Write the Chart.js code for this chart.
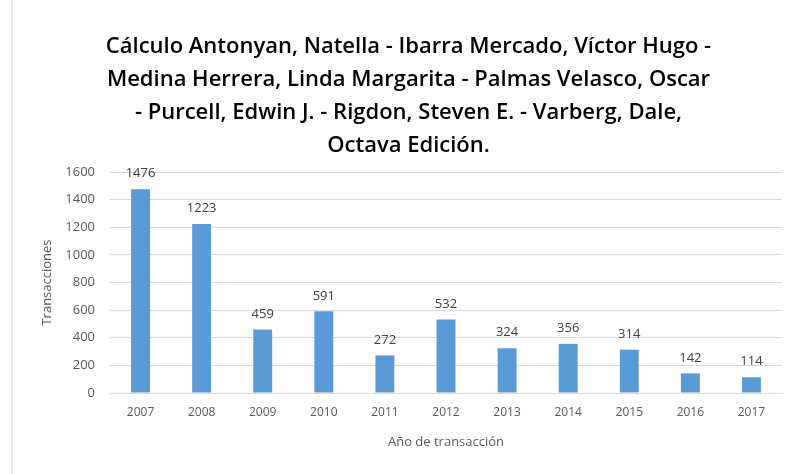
<!DOCTYPE html>
<html>
<head>
<meta charset="utf-8">
<script src="https://cdn.jsdelivr.net/npm/chart.js@4/dist/chart.umd.min.js"></script>
<style>
  html, body { margin: 0; padding: 0; background: #fff; }
  #wrap { position: relative; width: 790px; height: 474px; }
  #edge { position: absolute; left: 11px; top: 0; bottom: 0; border-left: 2px solid #e4e4e4; }
</style>
</head>
<body>
<div id="wrap">
  <div id="edge"></div>
  <canvas id="chart" width="790" height="474"></canvas>
</div>
<script>
const years = ["2007","2008","2009","2010","2011","2012","2013","2014","2015","2016","2017"];
const transacciones = [1476, 1223, 459, 591, 272, 532, 324, 356, 314, 142, 114];
const titleLines = [
  "Cálculo Antonyan, Natella - Ibarra Mercado, Víctor Hugo -",
  "Medina Herrera, Linda Margarita - Palmas Velasco, Oscar",
  "- Purcell, Edwin J. - Rigdon, Steven E. - Varberg, Dale,",
  "Octava Edición."
];

// draws the value over each bar
const valueLabels = {
  id: "valueLabels",
  afterDatasetsDraw(chart) {
    const ctx = chart.ctx;
    const meta = chart.getDatasetMeta(0);
    ctx.save();
    ctx.font = "13px 'Open Sans', sans-serif";
    ctx.fillStyle = "#404040";
    ctx.textAlign = "center";
    ctx.textBaseline = "bottom";
    meta.data.forEach((bar, i) => {
      ctx.fillText(String(transacciones[i]), bar.x, bar.y - 9);
    });
    ctx.restore();
  }
};

new Chart(document.getElementById("chart"), {
  type: "bar",
  data: {
    labels: years,
    datasets: [{
      label: "Transacciones",
      data: transacciones,
      backgroundColor: "#5b9bd5",
      borderWidth: 0,
      barPercentage: 0.31,
      categoryPercentage: 1
    }]
  },
  options: {
    responsive: false,
    animation: false,
    layout: { padding: { top: 30, left: 35, right: 8, bottom: 20 } },
    plugins: {
      legend: { display: false },
      tooltip: { enabled: false },
      title: {
        display: true,
        text: titleLines,
        color: "#000",
        font: { family: "'Open Sans', sans-serif", size: 22, weight: "600", lineHeight: 1.5 },
        padding: { top: 0, bottom: 10 }
      }
    },
    scales: {
      x: {
        grid: { display: false },
        border: { color: "#d9d9d9" },
        ticks: { color: "#595959", font: { family: "'Open Sans', sans-serif", size: 12 }, padding: 4 },
        title: {
          display: true,
          text: "Año de transacción",
          color: "#595959",
          font: { family: "'Open Sans', sans-serif", size: 13 },
          padding: { top: 11 }
        }
      },
      y: {
        min: 0,
        max: 1600,
        afterFit: s => { s.width = 75; },
        ticks: {
          stepSize: 200,
          color: "#595959",
          font: { family: "'Open Sans', sans-serif", size: 13 },
          padding: 15,
          callback: v => String(v)
        },
        grid: { color: "#d9d9d9", drawTicks: false },
        border: { display: false },
        title: {
          display: true,
          text: "Transacciones",
          color: "#595959",
          font: { family: "'Open Sans', sans-serif", size: 13 },
          padding: { top: 4, bottom: 8 }
        }
      }
    }
  },
  plugins: [valueLabels]
});
</script>
</body>
</html>
